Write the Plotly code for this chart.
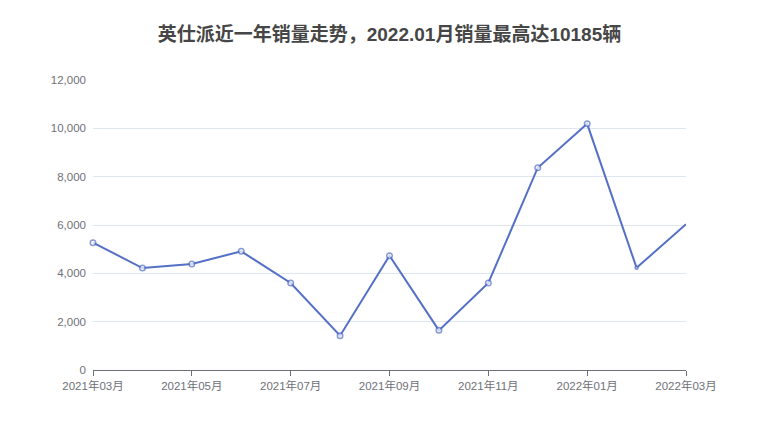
import plotly.graph_objects as go

months = ['2021年03月', '2021年04月', '2021年05月', '2021年06月', '2021年07月',
          '2021年08月', '2021年09月', '2021年10月', '2021年11月', '2021年12月',
          '2022年01月', '2022年02月', '2022年03月']
sales = [5270, 4220, 4390, 4910, 3600, 1420, 4730, 1640, 3600, 8370, 10185, 4230, 6030]

title_text = '英仕派近一年销量走势，2022.01月销量最高达10185辆'
line_color = '#5470c6'
font_main = 'Liberation Sans, Noto Sans CJK SC, sans-serif'

# markers: hidden on the last two points like the reference
msize = [5.5] * len(sales)
msize[-2] = 3
msize[-1] = 0

fig = go.Figure()
fig.add_trace(go.Scatter(
    x=months, y=sales, mode='lines+markers',
    line=dict(color=line_color, width=2),
    marker=dict(symbol='circle', size=msize, color='white',
                line=dict(color=line_color, width=1.5)),
    cliponaxis=False,
    showlegend=False))

# page body adds ~8px offset, so margins are shifted to compensate
fig.update_layout(
    width=780, height=440,
    margin=dict(l=85, r=102, t=72, b=78),
    paper_bgcolor='white', plot_bgcolor='white',
    font=dict(family=font_main, color='#6e7079', size=11.5),
    title=dict(text='<b>' + title_text + '</b>', x=0.5, xanchor='center',
               xref='paper', y=0.94, yanchor='middle',
               font=dict(family=font_main, size=19, color='#464646')),
)

fig.update_xaxes(
    type='category', range=[0, len(months) - 1],
    tickmode='array', tickvals=months[::2], ticktext=months[::2],
    showgrid=False, showline=True, linecolor='#6e7079', linewidth=1,
    ticks='outside', ticklen=5, tickcolor='#6e7079',
    tickfont=dict(size=11.5, color='#6e7079'), zeroline=False)

fig.update_yaxes(
    range=[0, 12000], dtick=2000, tickformat=',',
    showgrid=True, gridcolor='#e0e6f1', gridwidth=1,
    showline=False, zeroline=False, ticks='', ticklabelstandoff=6,
    tickfont=dict(size=11.5, color='#6e7079'))

fig.write_html('out.html')
